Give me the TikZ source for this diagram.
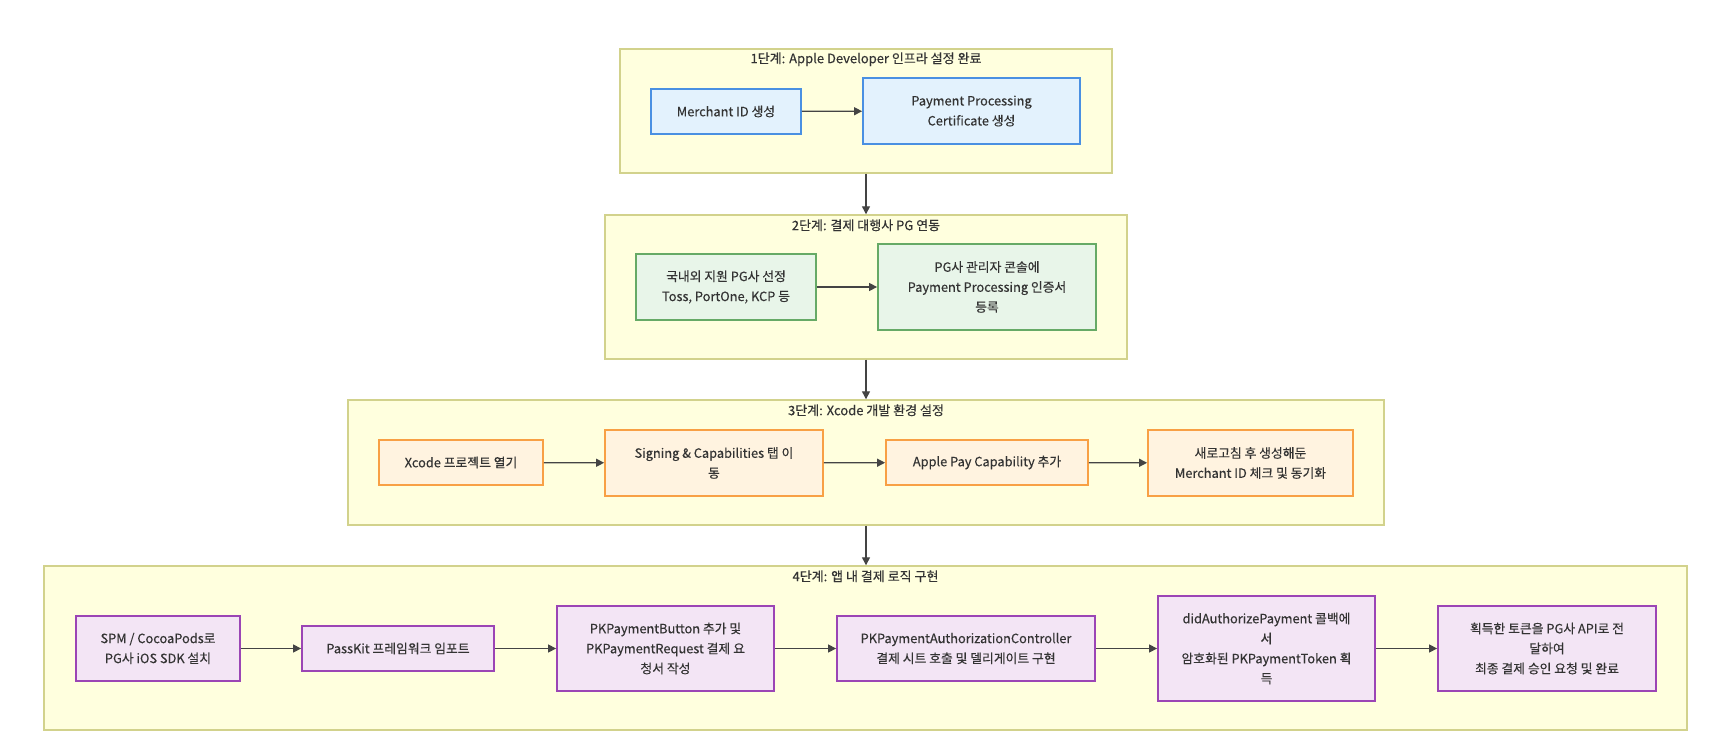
\documentclass[tikz,border=0pt]{standalone}
\usepackage{fontspec}
\setmainfont{Noto Sans CJK KR}[FakeBold=0.3]
\usetikzlibrary{arrows.meta}
\definecolor{txt}{HTML}{333333}
\definecolor{clfill}{HTML}{FFFFDE}
\definecolor{cldraw}{HTML}{D2D28C}
\definecolor{bluef}{HTML}{E3F2FD}
\definecolor{blued}{HTML}{4A90E2}
\definecolor{greenf}{HTML}{E8F5E9}
\definecolor{greend}{HTML}{66AA66}
\definecolor{orangef}{HTML}{FFF3E0}
\definecolor{oranged}{HTML}{F8A045}
\definecolor{purplef}{HTML}{F3E5F5}
\definecolor{purpled}{HTML}{9B45B5}
\definecolor{arrc}{HTML}{444444}
\tikzset{
  cluster/.style={draw=cldraw, fill=clfill, line width=1.4pt, inner sep=0pt},
  ctitle/.style={text=txt, font=\fontsize{13}{18}\selectfont, inner sep=0pt},
  box/.style={line width=1.8pt, text=txt, align=center, inner sep=0pt,
    font=\fontsize{12.8}{20}\selectfont},
  bluebox/.style={box, draw=blued, fill=bluef},
  greenbox/.style={box, draw=greend, fill=greenf},
  orangebox/.style={box, draw=oranged, fill=orangef},
  purplebox/.style={box, draw=purpled, fill=purplef},
  arr/.style={draw=arrc, line width=1.3pt, -{Triangle[length=8pt,width=8pt]}}
}
\begin{document}
\begin{tikzpicture}[x=1pt,y=-1pt]
\path[use as bounding box, fill=white] (0,0) rectangle (1710,754);
% clusters
\node[cluster, minimum width=492pt, minimum height=124pt] (c1) at (866,111) {};
\node[cluster, minimum width=522pt, minimum height=144pt] (c2) at (866,287) {};
\node[cluster, minimum width=1036pt, minimum height=125pt] (c3) at (866,462.5) {};
\node[cluster, minimum width=1643pt, minimum height=164pt] (c4) at (865.5,648) {};
\node[ctitle] (t1) at ([yshift=-11pt]c1.north) {1단계: Apple Developer 인프라 설정 완료};
\node[ctitle] (t2) at ([yshift=-11pt]c2.north) {2단계: 결제 대행사 PG 연동};
\node[ctitle] (t3) at ([yshift=-11pt]c3.north) {3단계: Xcode 개발 환경 설정};
\node[ctitle] (t4) at ([yshift=-11pt]c4.north) {4단계: 앱 내 결제 로직 구현};
% stage 1
\node[bluebox, minimum width=150pt, minimum height=45pt] (n1) at (726,111.5) {Merchant ID 생성};
\node[bluebox, minimum width=217pt, minimum height=66pt] (n2) at (971.5,111) {Payment Processing\\Certificate 생성};
% stage 2
\node[greenbox, minimum width=180pt, minimum height=66pt] (n3) at (726,287) {국내외 지원 PG사 선정\\Toss, PortOne, KCP 등};
\node[greenbox, minimum width=218pt, minimum height=86pt] (n4) at (987,287) {PG사 관리자 콘솔에\\Payment Processing 인증서\\등록};
% stage 3
\node[orangebox, minimum width=164pt, minimum height=45pt] (n5) at (461,462.5) {Xcode 프로젝트 열기};
\node[orangebox, minimum width=218pt, minimum height=66pt] (n6) at (714,463) {Signing \& Capabilities 탭 이\\동};
\node[orangebox, minimum width=202pt, minimum height=45pt] (n7) at (987,462.5) {Apple Pay Capability 추가};
\node[orangebox, minimum width=205pt, minimum height=66pt] (n8) at (1250.5,463) {새로고침 후 생성해둔\\Merchant ID 체크 및 동기화};
% stage 4
\node[purplebox, minimum width=164pt, minimum height=65pt] (n9) at (158,648.5) {SPM / CocoaPods로\\PG사 iOS SDK 설치};
\node[purplebox, minimum width=192pt, minimum height=45pt] (n10) at (398,648.5) {PassKit 프레임워크 임포트};
\node[purplebox, minimum width=217pt, minimum height=85pt] (n11) at (665.5,648.5) {PKPaymentButton 추가 및\\PKPaymentRequest 결제 요\\청서 작성};
\node[purplebox, minimum width=258pt, minimum height=65pt] (n12) at (966,648.5) {PKPaymentAuthorizationController\\결제 시트 호출 및 델리게이트 구현};
\node[purplebox, minimum width=217pt, minimum height=105pt] (n13) at (1266.5,648.5) {didAuthorizePayment 콜백에\\서\\암호화된 PKPaymentToken 획\\득};
\node[purplebox, minimum width=218pt, minimum height=85pt] (n14) at (1547,648.5) {획득한 토큰을 PG사 API로 전\\달하여\\최종 결제 승인 요청 및 완료};
% arrows
\draw[arr] (n1) -- (n2);
\draw[arr] (n3) -- (n4);
\draw[arr] (n5) -- (n6);
\draw[arr] (n6) -- (n7);
\draw[arr] (n7) -- (n8);
\draw[arr] (n9) -- (n10);
\draw[arr] (n10) -- (n11);
\draw[arr] (n11) -- (n12);
\draw[arr] (n12) -- (n13);
\draw[arr] (n13) -- (n14);
\draw[arr] (c1.south) -- (c1.south |- c2.north);
\draw[arr] (c2.south) -- (c2.south |- c3.north);
\draw[arr] (c3.south) -- (c3.south |- c4.north);
\end{tikzpicture}
\end{document}
